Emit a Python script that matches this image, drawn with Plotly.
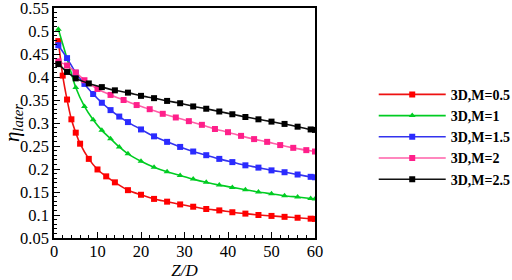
import plotly.graph_objects as go

# ---- data ----
x_red = [1, 2, 3, 4, 5, 6, 8, 10, 12, 14, 17, 20, 23, 26, 29, 32, 35, 38, 41, 44, 47, 50, 53, 56, 59, 60]
y_red = [0.478, 0.403, 0.351, 0.308, 0.279, 0.255, 0.222, 0.199, 0.184, 0.171, 0.154, 0.144, 0.135, 0.129,
         0.123, 0.118, 0.113, 0.110, 0.106, 0.103, 0.100, 0.098, 0.096, 0.094, 0.092, 0.0915]

x_green = [1, 3, 5, 7, 9, 11, 13, 15, 17, 20, 23, 26, 29, 32, 35, 38, 41, 44, 47, 50, 53, 56, 59, 60]
y_green = [0.504, 0.440, 0.377, 0.336, 0.307, 0.284, 0.266, 0.248, 0.233, 0.217, 0.204, 0.194, 0.186,
           0.178, 0.171, 0.165, 0.160, 0.155, 0.150, 0.146, 0.142, 0.139, 0.136, 0.135]

x_blue = [1, 3, 5, 7, 9, 11, 13, 15, 17, 20, 23, 26, 29, 32, 35, 38, 41, 44, 47, 50, 53, 56, 59, 60]
y_blue = [0.469, 0.441, 0.409, 0.385, 0.363, 0.344, 0.328, 0.314, 0.302, 0.286, 0.271, 0.259, 0.248,
          0.238, 0.230, 0.222, 0.215, 0.208, 0.203, 0.197, 0.193, 0.188, 0.183, 0.182]

x_pink = [1, 3, 5, 7, 10, 13, 16, 19, 22, 25, 28, 31, 34, 37, 40, 43, 46, 49, 52, 55, 58, 60]
y_pink = [0.434, 0.425, 0.410, 0.393, 0.374, 0.361, 0.350, 0.339, 0.330, 0.320, 0.312, 0.304, 0.296,
          0.287, 0.280, 0.272, 0.265, 0.259, 0.252, 0.246, 0.241, 0.238]

x_black = [1, 3, 5, 8, 11, 14, 17, 20, 23, 26, 29, 32, 35, 38, 41, 44, 47, 50, 53, 56, 59, 60]
y_black = [0.428, 0.411, 0.397, 0.386, 0.378, 0.371, 0.366, 0.359, 0.354, 0.348, 0.343, 0.336, 0.331,
           0.325, 0.319, 0.313, 0.308, 0.303, 0.298, 0.292, 0.286, 0.285]

y_ticks = [0.05, 0.1, 0.15, 0.2, 0.25, 0.3, 0.35, 0.4, 0.45, 0.5, 0.55]
y_tick_labels = ["0.05", "0.1", "0.15", "0.2", "0.25", "0.3", "0.35", "0.4", "0.45", "0.5", "0.55"]

names = ["3D,M=0.5", "3D,M=1", "3D,M=1.5", "3D,M=2", "3D,M=2.5"]
line_colors = ["#ee1111", "#00cc22", "#3333ee", "#ff5fa8", "#111111"]
marker_colors = ["#ff0000", "#00cc22", "#2b2bff", "#ff1f8a", "#000000"]
symbols = ["square", "triangle-up", "square", "square", "square"]

series = [(x_red, y_red), (x_green, y_green), (x_blue, y_blue), (x_pink, y_pink), (x_black, y_black)]

fig = go.Figure()
for (xs, ys), nm, lc, mc, sym in zip(series, names, line_colors, marker_colors, symbols):
    fig.add_trace(go.Scatter(
        x=xs, y=ys, name=nm, mode="lines+markers",
        line=dict(color=lc, width=1.6, shape="spline", smoothing=0.6),
        marker=dict(symbol=sym, size=6, color=mc, line=dict(width=0)),
    ))

serif = "Liberation Serif, Times New Roman, serif"

fig.update_layout(
    width=512, height=280,
    margin=dict(l=54, r=197, t=8, b=42, autoexpand=False),
    paper_bgcolor="white", plot_bgcolor="white",
    font=dict(family=serif, color="black", size=16),
    showlegend=True,
    legend=dict(
        x=1.225, y=0.44, xanchor="left", yanchor="middle",
        font=dict(family=serif, size=14, color="black", weight="bold"),
        bgcolor="rgba(0,0,0,0)", borderwidth=0,
        tracegroupgap=0, itemwidth=67,
    ),
    xaxis=dict(
        range=[0, 60], dtick=10, tick0=0, automargin=False,
        showgrid=False, zeroline=False,
        showline=True, linecolor="black", linewidth=1.5, mirror=True,
        ticks="inside", ticklen=6, tickwidth=1.2, tickcolor="black",
        minor=dict(ticks="inside", ticklen=3, dtick=2, tickcolor="black", tickwidth=1, showgrid=False),
        tickfont=dict(family=serif, size=16.5),
        ticklabelstandoff=-3, ticklabeloverflow="allow",
        title=dict(text="<i>Z/D</i>", font=dict(family=serif, size=17), standoff=2),
    ),
    yaxis=dict(
        range=[0.05, 0.55], automargin=False,
        tickmode="array", tickvals=y_ticks, ticktext=y_tick_labels,
        showgrid=False, zeroline=False,
        showline=True, linecolor="black", linewidth=1.5, mirror=True,
        ticks="inside", ticklen=6, tickwidth=1.2, tickcolor="black",
        minor=dict(ticks="inside", ticklen=3, dtick=0.01, tick0=0.05, tickcolor="black", tickwidth=1, showgrid=False),
        tickfont=dict(family=serif, size=16.5),
        ticklabeloverflow="allow",
        title=dict(text="<i>η</i><sub><i>later</i></sub>", font=dict(family=serif, size=21), standoff=2),
    ),
)

fig.write_html("out.html", config={"displayModeBar": False},
               post_script="document.body.style.margin='0';")
